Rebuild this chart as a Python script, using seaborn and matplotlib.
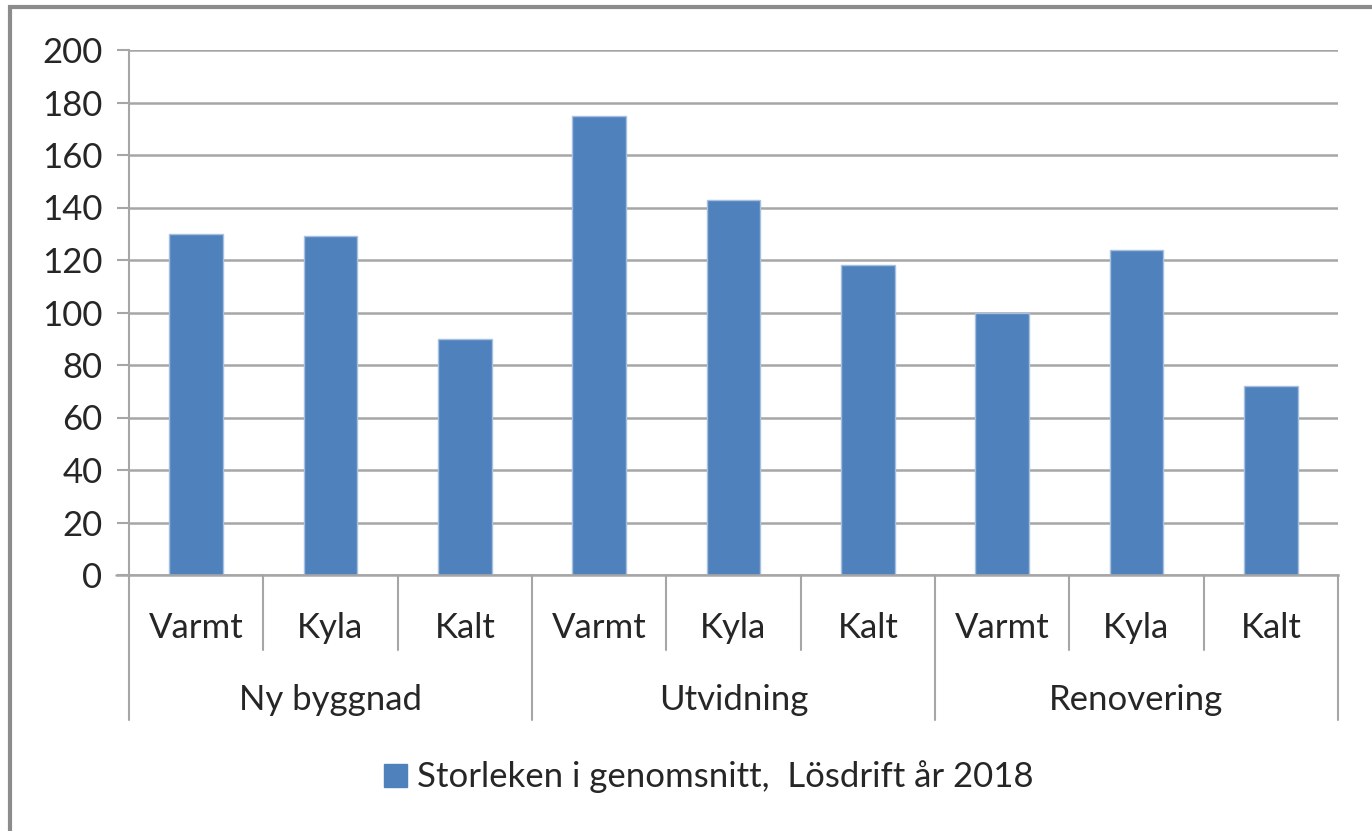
import pandas as pd
import numpy as np
import matplotlib
matplotlib.use("Agg")
import matplotlib.pyplot as plt
import matplotlib.transforms as mtransforms
from matplotlib.patches import Rectangle, Patch
import seaborn as sns

# dati
grupper = ["Ny byggnad", "Utvidning", "Renovering"]
typer = ["Varmt", "Kyla", "Kalt"]
varden_ny = [130, 129, 90]
varden_utv = [175, 143, 118]
varden_ren = [100, 124, 72]
serie_namn = "Storleken i genomsnitt,  Lösdrift år 2018"

rader = []
for g, vals in zip(grupper, [varden_ny, varden_utv, varden_ren]):
    for t, v in zip(typer, vals):
        rader.append({"grupp": g, "typ": t, "etikett": g + "|" + t, "varde": v})
df = pd.DataFrame(rader)

sns.set_style("white")
plt.rcParams["font.family"] = ["Lato", "DejaVu Sans"]
fs = 25

fig = plt.figure(figsize=(13.72, 8.31), dpi=100)
ax = fig.add_axes([129 / 1372, 1 - 575 / 831, (1338 - 129) / 1372, 525 / 831])

bla = "#4F81BD"
sns.barplot(data=df, x="etikett", y="varde", color=bla, width=0.4,
            edgecolor="#A7C0DE", linewidth=1, saturation=1, ax=ax)

ax.set_xlim(-0.5, len(df) - 0.5)
ax.set_ylim(0, 200)
ax.set_yticks(range(0, 201, 20))
ax.yaxis.grid(True, color="#A6A6A6", linewidth=1.8)
ax.set_axisbelow(True)
ax.set_xlabel("")
ax.set_ylabel("")
ax.set_xticks([])
ax.tick_params(axis="y", labelsize=fs, colors="#262626", length=9, width=1.5,
               color="#A6A6A6", direction="out", pad=10, left=True)
for lab in ax.get_yticklabels():
    lab.set_color("#262626")
for s in ["top", "right"]:
    ax.spines[s].set_visible(False)
ax.spines["left"].set_color("#A6A6A6")
ax.spines["left"].set_linewidth(1.5)
ax.spines["bottom"].set_color("#A6A6A6")
ax.spines["bottom"].set_linewidth(1.8)

# asse delle categorie a due livelli
trans = mtransforms.blended_transform_factory(ax.transData, ax.transAxes)
kort = -(650 - 575) / 525
lang = -(720 - 575) / 525
n = len(typer)
for i in range(len(df) + 1):
    y_end = lang if i % n == 0 else kort
    ax.plot([i - 0.5, i - 0.5], [0, y_end], transform=trans, color="#A6A6A6",
            linewidth=1.5, clip_on=False)
# linea 0 si estende a sinistra come un tick
ax.plot([-0.6, -0.5], [0, 0], transform=trans, color="#A6A6A6", linewidth=1.8, clip_on=False)

for i, t in enumerate(df["typ"]):
    ax.text(i, -(628 - 575) / 525, t, transform=trans, ha="center", va="center",
            fontsize=fs, color="#262626")
for j, g in enumerate(grupper):
    ax.text(j * n + (n - 1) / 2, -(700 - 575) / 525, g, transform=trans,
            ha="center", va="center", fontsize=fs, color="#262626")

# legenda
handle = Patch(facecolor=bla, edgecolor=bla)
fig.legend([handle], [serie_namn], loc="center", bbox_to_anchor=(709 / 1372, 1 - 777 / 831),
           frameon=False, fontsize=fs, handlelength=0.65, handleheight=0.65,
           handletextpad=0.3, labelcolor="#262626")

# cornice esterna
fig.patches.append(Rectangle((10 / 1372, -0.05), 1.2, 1 - 7 / 831 + 0.05,
                             transform=fig.transFigure, fill=False,
                             edgecolor="#8C8C8C", linewidth=3))

fig.savefig("out.png", dpi=100, facecolor="white")
